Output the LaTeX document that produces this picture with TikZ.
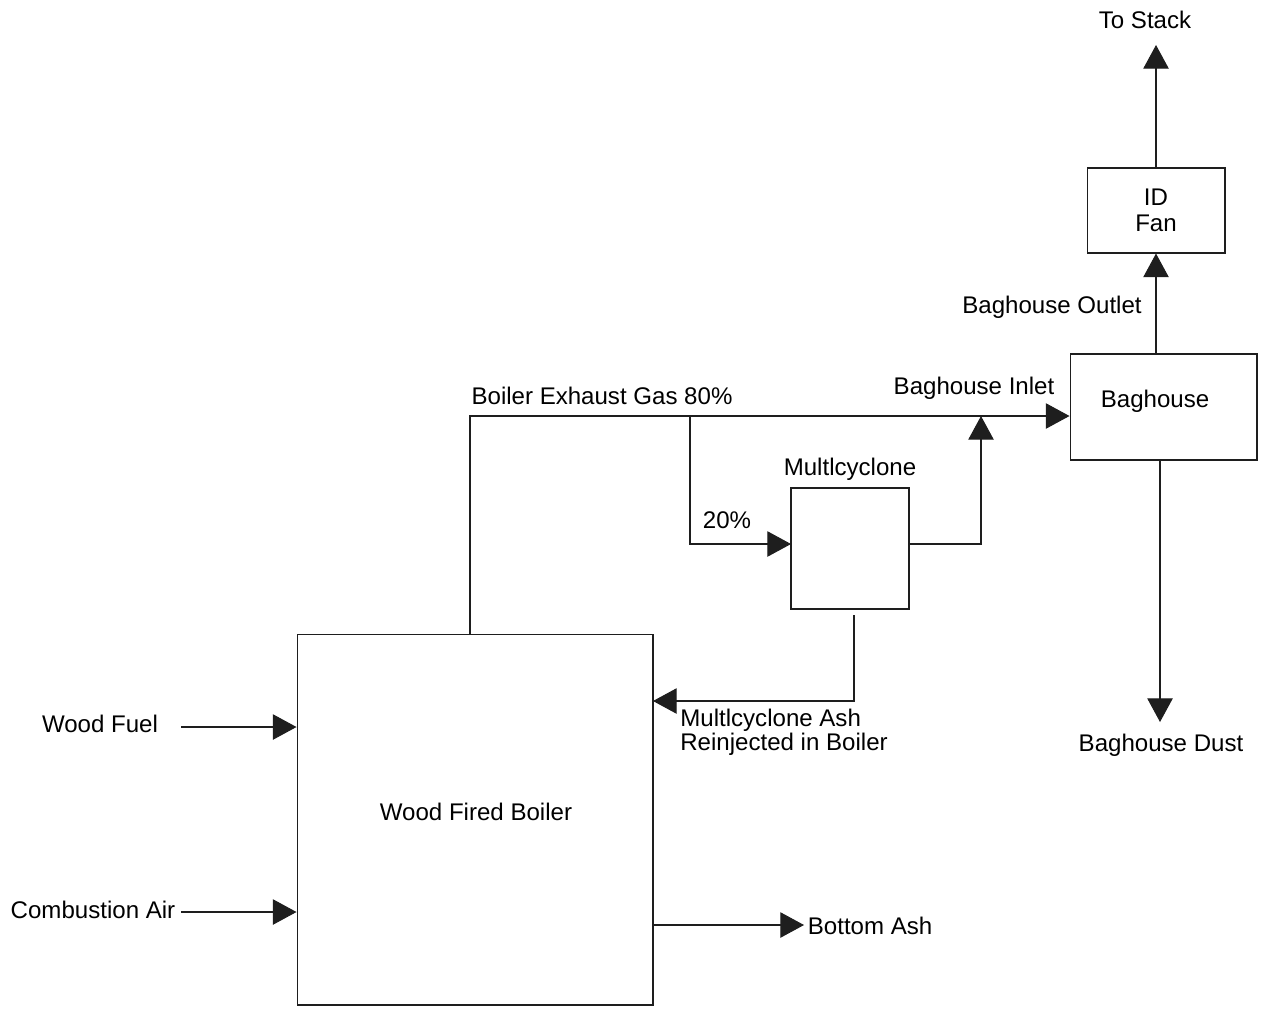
\documentclass[tikz,border=0pt]{standalone}
\usepackage{fontspec}
\setmainfont{Liberation Sans}
\usepackage{tikz}
\usetikzlibrary{arrows.meta,positioning,calc}
\usepackage{xcolor}
\definecolor{lineclr}{RGB}{30,30,30}

\begin{document}
\begin{tikzpicture}[
    x=0.02cm,y=-0.02cm,
    every node/.style={font=\fontsize{13.7}{16.5}\selectfont},
    unit/.style={rectangle,draw=lineclr,line width=0.6pt,inner sep=0pt,align=center},
    lbl/.style={inner sep=2pt,align=left},
    flow/.style={-{Triangle[length=13.5pt,width=14.5pt]},line width=0.6pt,lineclr},
  ]
    \useasboundingbox (0,0) rectangle (1263,1008);
    % process units
    \node[unit,minimum width=7.12cm,minimum height=7.42cm] (boiler) at (475,819.5) {};
    \node at (476,812) {Wood Fired Boiler};
    \node[unit,minimum width=2.36cm,minimum height=2.42cm] (multi) at (850,548.5) {};
    \node[lbl] (multilbl) at (850,469) {Multlcyclone};
    \node[unit,minimum width=3.74cm,minimum height=2.12cm] (baghouse) at (1163.5,407) {};
    \node at (1155,401) {Baghouse};
    \node[unit,minimum width=2.76cm,minimum height=1.7cm] (fan) at (1156,210.5) {ID\\[-2pt]Fan};
    % stream labels
    \node[lbl] (wf) at (100,724) {Wood Fuel};
    \node[lbl] (ca) at (93,910) {Combustion Air};
    \node[lbl,anchor=west] (ba) at (804,926) {Bottom Ash};
    \node[lbl] (exhlbl) at (602,396) {Boiler Exhaust Gas 80\%};
    \node[lbl] (pct) at (727,520) {20\%};
    \node[lbl] (inlet) at (974,388) {Baghouse Inlet};
    \node[lbl] (outlet) at (1052,307) {Baghouse Outlet};
    \node[lbl] (stack) at (1145,20) {To Stack};
    \node[lbl] (dust) at (1161,745) {Baghouse Dust};
    \node[lbl,anchor=north west,inner sep=0pt] (ashlbl) at (680,709) {Multlcyclone Ash\\[-3pt]Reinjected in Boiler};
    % bend points
    \coordinate (exh) at (470,416);
    \coordinate (split) at (690,416);
    \coordinate (merge) at (981,416);
    \coordinate (cyin) at (791,544);
    \coordinate (cyout) at (909,544);
    \coordinate (ashtop) at (854,615);
    \coordinate (ashin) at (653,701);
    \coordinate (wfin) at (181,727);
    \coordinate (cain) at (181,912);
    \coordinate (baout) at (653,925);
    \coordinate (dusttop) at (1160,460);
    \coordinate (dustend) at (1160,722);
    \coordinate (stacktop) at (1156,45);
    % connectors
    \draw[flow] (boiler.north -| exh) -- (exh) -- (baghouse.west |- exh);
    \draw[flow] (split) |- (cyin);
    \draw[flow] (cyout) -| (merge);
    \draw[flow] (ashtop) |- (ashin);
    \draw[flow] (wfin) -- (boiler.west |- wfin);
    \draw[flow] (cain) -- (boiler.west |- cain);
    \draw[flow] (baout) -- (ba.west |- baout);
    \draw[flow] (dusttop) -- (dustend);
    \draw[flow] (baghouse.north -| fan.south) -- (fan.south);
    \draw[flow] (fan.north) -- (stacktop);
  \end{tikzpicture}
\end{document}
